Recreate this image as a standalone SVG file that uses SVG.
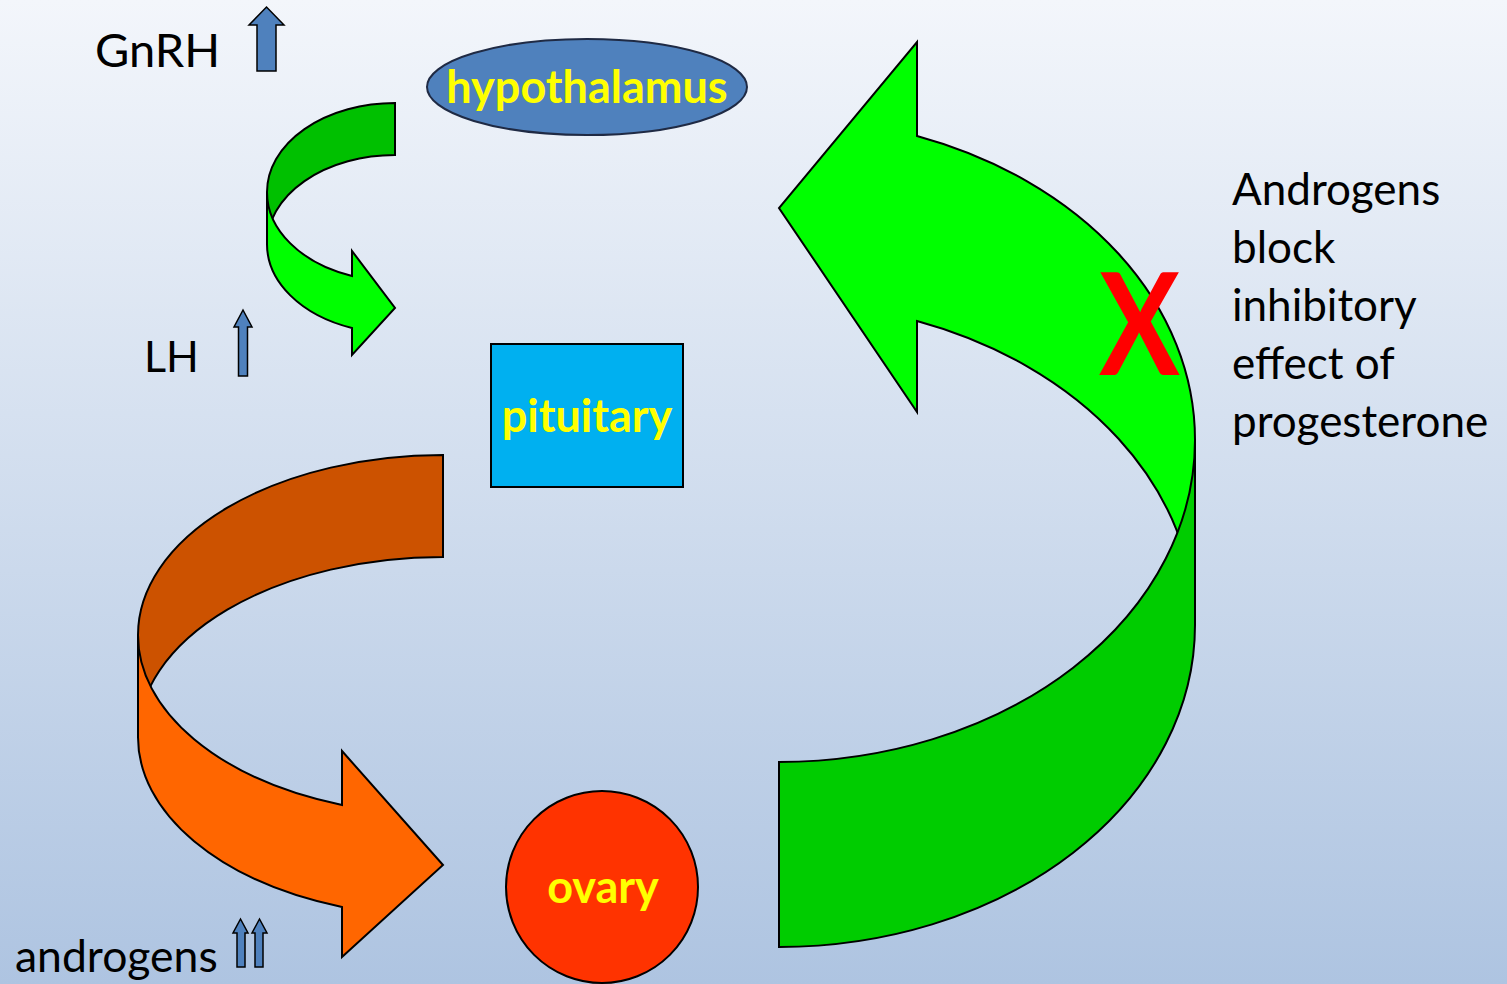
<svg xmlns="http://www.w3.org/2000/svg" width="1507" height="984" viewBox="0 0 1507 984">
<defs>
<linearGradient id="bg" x1="0" y1="0" x2="0" y2="1">
<stop offset="0" stop-color="#F3F6FB"/>
<stop offset="1" stop-color="#AEC4E1"/>
</linearGradient>
<path id="upArrow" d="M-9.5,0 L-9.5,-46 L-17.5,-46 L0,-64 L17.5,-46 L9.5,-46 L9.5,0 Z"/>
</defs>
<style>
.ln{stroke:#000;stroke-width:2;stroke-linejoin:miter}
.lbl{font-family:Lato,"Open Sans",sans-serif;font-size:44px;fill:#000}
.nl{font-family:Lato,"Open Sans",sans-serif;font-size:45px;font-weight:bold;fill:#FFFF00;text-anchor:middle}
.blue{fill:#4F81BD;stroke:#000;stroke-width:1.5}
</style>
<rect width="1507" height="984" fill="url(#bg)"/>

<g id="connectors">
<g id="arrow-gnrh-lh">
<path class="ln" fill="#00C000" d="M395,103 A128 89 0 0 0 267,192 L267,244 A128 89 0 0 1 395,155 Z"/>
<path class="ln" fill="#00FF00" d="M267,192 L267,244 A128 89 0 0 0 352,328 L352,355 L395,308 L352,251 L352,276 A128 89 0 0 1 267,192 Z"/>
</g>
<g id="arrow-lh-ovary">
<path class="ln" fill="#CC5200" d="M443,455 A305 180 0 0 0 138,635 L138,737 A305 180 0 0 1 443,557 Z"/>
<path class="ln" fill="#FF6600" d="M138,635 L138,737 A305 180 0 0 0 342,907 L342,957 L443,865 L342,751 L342,805 A305 180 0 0 1 138,635 Z"/>
</g>
<g id="arrow-ovary-hypothalamus">
<path class="ln" fill="#00FF00" d="M1195,625 L1195,440 A416 322 0 0 0 917,136 L917,42 L779,208 L917,412 L917,321 A416 322 0 0 1 1195,625 Z"/>
<path class="ln" fill="#00CC00" d="M779,947 A416 322 0 0 0 1195,625 L1195,440 A416 322 0 0 1 779,762 Z"/>
</g>
</g>

<g id="hypothalamus">
<ellipse cx="587" cy="87" rx="160" ry="48" fill="#4F81BD" stroke="#1F2A44" stroke-width="2"/>
<text class="nl" x="587" y="103">hypothalamus</text>
</g>
<g id="pituitary">
<rect x="491" y="344" width="192" height="143" fill="#00B0F0" stroke="#000" stroke-width="2"/>
<text class="nl" x="587" y="432">pituitary</text>
</g>
<g id="ovary">
<circle cx="602" cy="887" r="96" fill="#FF3300" stroke="#000" stroke-width="2"/>
<text class="nl" x="603" y="903">ovary</text>
</g>

<g id="label-gnrh">
<text class="lbl" x="95" y="67" style="font-size:47px">GnRH</text>
<use href="#upArrow" x="266.5" y="71" class="blue"/>
</g>
<g id="label-lh">
<text class="lbl" x="144" y="372" style="font-size:43px">LH</text>
<path class="blue" d="M238.5,376 L238.5,327 L234,327 L243,310 L252,327 L247.5,327 L247.5,376 Z"/>
</g>
<g id="label-androgens">
<text class="lbl" x="15" y="972" style="font-size:44.5px">androgens</text>
<path class="blue" d="M237,967 L237,933 L233,933 L240.5,919 L248,933 L245,933 L245,967 Z"/>
<path class="blue" d="M255,967 L255,933 L252,933 L259.5,919 L267,933 L263,933 L263,967 Z"/>
</g>
<g id="label-block">
<text class="lbl" x="1232" y="205">Androgens</text>
<text class="lbl" x="1232" y="263">block</text>
<text class="lbl" x="1232" y="321">inhibitory</text>
<text class="lbl" x="1232" y="379">effect of</text>
<text class="lbl" x="1232" y="437">progesterone</text>
</g>
<g id="red-x">
<text transform="translate(1139.5,375) scale(0.85,1)" x="0" y="0" font-family="Lato,'Open Sans',sans-serif" font-size="142" font-weight="bold" fill="#FF0000" text-anchor="middle">X</text>
</g>
</svg>
